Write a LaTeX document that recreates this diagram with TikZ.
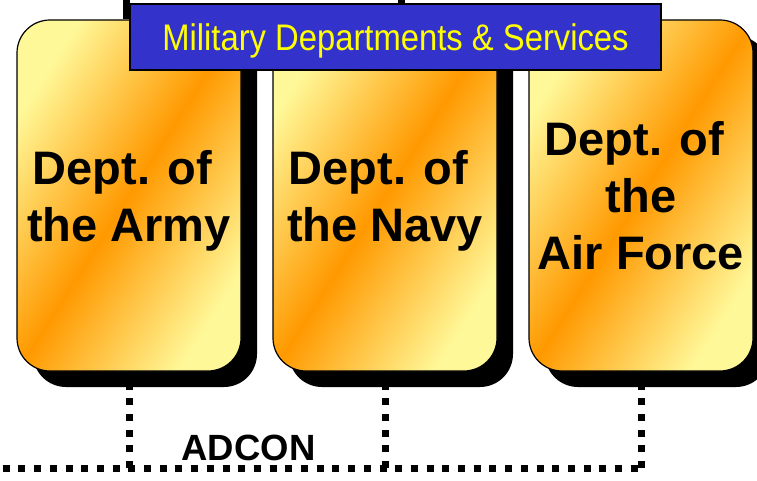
\documentclass[tikz,border=0pt]{standalone}
\usepackage{fontspec}
\setmainfont{Liberation Sans}
\newfontfamily\narrowfont{Liberation Sans}[FakeStretch=0.886]
\usetikzlibrary{shadows}
\definecolor{paleyellow}{RGB}{255,248,153}
\definecolor{deptorange}{RGB}{255,153,0}
\definecolor{bannerblue}{RGB}{51,51,204}
\definecolor{banneryellow}{RGB}{255,255,0}
\pgfdeclarelayer{background}
\pgfsetlayers{background,main}
\tikzset{
  deptbox/.style={rectangle, rounded corners=33pt, minimum width=224pt, minimum height=351pt,
    inner sep=0pt, draw=black, line width=1.2pt,
    top color=paleyellow, bottom color=paleyellow, middle color=deptorange, shading angle=57.5,
    general shadow={fill=black, shadow xshift=16pt, shadow yshift=-16pt},
    align=center, text depth=0pt, font=\bfseries\fontsize{47}{57}\selectfont},
  banner/.style={rectangle, minimum width=531pt, minimum height=66pt, inner sep=0pt,
    draw=black, line width=1.2pt, fill=bannerblue, text=banneryellow, text depth=0pt,
    font=\narrowfont\fontsize{37}{40}\selectfont},
  topline/.style={line width=7pt, black},
  adconline/.style={line width=7pt, black, dash pattern=on 7pt off 8.7pt},
  adconlabel/.style={font=\bfseries\fontsize{36.5}{40}\selectfont, inner sep=0pt}
}
\begin{document}
\begin{tikzpicture}[x=1pt,y=-1pt]
\useasboundingbox (0,0) rectangle (757,481);
% department boxes
\node[deptbox] (army) at (129,195.5) {Dept. of\kern0.28em\\the Army};
\node[deptbox] (navy) at (385,195.5) {Dept. of\kern0.28em\\the Navy};
\node[deptbox] (af) at (641,195.5) {Dept. of\kern0.28em\\the\\Air Force};
% banner
\node[banner] (banner) at (395.5,37) {\raisebox{-1pt}{Military Departments \& Services}};
% label
\node[adconlabel, anchor=base] (adcon) at (248.5,460) {ADCON};
% connectors
\coordinate (topA) at (126,0);
\coordinate (topB) at (401,0);
\coordinate (adconL) at (0,468);
\begin{pgfonlayer}{background}
  \draw[topline] (topA) -- (topA |- army.north);
  \draw[topline] (topB) -- (topB |- banner.center);
  \draw[adconline, dash phase=13pt] (adconL) -- (af.south |- adconL);
  \draw[adconline] (army.south |- adconL) -- (army.south);
  \draw[adconline] (navy.south |- adconL) -- (navy.south);
  \draw[adconline] (af.south |- adconL) -- (af.south);
\end{pgfonlayer}
\end{tikzpicture}
\end{document}
